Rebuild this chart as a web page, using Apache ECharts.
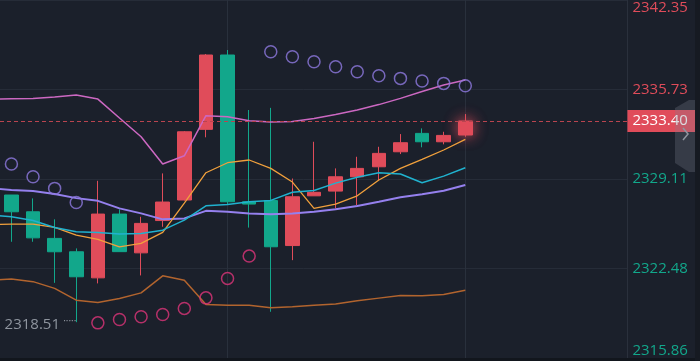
<!DOCTYPE html>
<html><head><meta charset="utf-8">
<script src="https://cdn.jsdelivr.net/npm/echarts@6/dist/echarts.min.js"></script>
<style>html,body{margin:0;padding:0;background:#1b202b;overflow:hidden}#c{width:721px;height:361px;margin-left:-21px}</style>
</head><body><div id="c"></div>
<script>
// ---- data ----
// first category (T00) is the bar just off the left edge; only the indicator lines show from it
const categories = ['T00','T01','T02','T03','T04','T05','T06','T07','T08','T09','T10','T11','T12','T13','T14','T15','T16','T17','T18','T19','T20','T21','T22','T23','T24','T25','T26','T27','T28','T29'];
const opens  = [2327.92,2326.68,2324.71,2323.72,2321.79,2326.51,2323.64,2326.03,2327.55,2332.78,2338.28,2327.42,2327.51,2324.18,2327.86,2328.21,2329.27,2330.01,2331.12,2332.48,2331.86,2332.36];
const closes = [2326.68,2324.75,2323.72,2321.87,2326.51,2323.73,2325.82,2327.40,2332.60,2338.28,2327.42,2327.25,2324.09,2327.79,2328.12,2329.27,2329.89,2331.00,2331.79,2331.86,2332.33,2333.40];
const lows   = [2324.46,2324.46,2321.42,2318.51,2321.38,2323.73,2321.97,2325.57,2327.51,2332.19,2327.25,2325.51,2319.28,2323.10,2327.86,2326.93,2327.17,2329.03,2330.95,2331.45,2331.67,2332.23];
const highs  = [2327.92,2327.67,2326.12,2323.97,2328.97,2326.86,2326.31,2329.52,2332.65,2338.35,2338.65,2334.21,2334.37,2329.14,2331.86,2329.89,2330.75,2331.49,2332.43,2332.85,2332.60,2333.91];
// indicator lines: first value belongs to T00
const upperBand = [2335.00,2335.04,2335.07,2335.17,2335.32,2335.02,2333.62,2332.23,2330.21,2330.82,2333.79,2333.71,2333.42,2333.32,2333.36,2333.59,2333.87,2334.21,2334.61,2335.07,2335.58,2336.06,2336.43];
const midBand   = [2328.43,2328.29,2328.21,2327.99,2327.69,2327.49,2326.93,2326.56,2326.12,2326.19,2326.75,2326.68,2326.56,2326.49,2326.56,2326.68,2326.86,2327.10,2327.42,2327.75,2327.97,2328.23,2328.66];
const lowerBand = [2321.62,2321.70,2321.51,2321.01,2320.14,2319.97,2320.27,2320.68,2321.94,2321.62,2319.82,2319.77,2319.77,2319.57,2319.65,2319.77,2319.85,2320.09,2320.29,2320.49,2320.46,2320.56,2320.88];
const maOrange  = [2325.73,2325.77,2325.77,2325.52,2324.95,2324.64,2324.09,2324.34,2325.15,2327.32,2329.57,2330.31,2330.51,2329.89,2328.88,2326.93,2327.25,2327.86,2329.03,2329.89,2330.56,2331.25,2332.04];
const maCyan    = [2326.45,2326.31,2326.03,2325.52,2325.20,2325.15,2325.03,2325.08,2325.32,2326.06,2327.12,2327.21,2327.42,2327.52,2328.12,2328.25,2328.80,2329.23,2329.57,2329.47,2328.83,2329.32,2329.94];
const sar       = [2330.21,2329.27,2328.41,2327.37,2318.46,2318.71,2318.91,2319.08,2319.53,2320.31,2321.75,2323.40,2338.52,2338.15,2337.78,2337.41,2337.04,2336.75,2336.55,2336.35,2336.18,2336.01];
const yTicks = [2315.86, 2322.48, 2329.11, 2335.73, 2342.35];
const lastPrice = 2333.40;
const gridMarkIdx = [11, 22];

// ---- styles ----
const RED = '#e04c5a', GREEN = '#12a78b';
const FONT = 'Open Sans';
const OX = 21; // chart canvas is shifted 21px left of the page

const candleData = ['-'].concat(opens.map((o, i) => {
  const d = { value: [o, closes[i], lows[i], highs[i]] };
  if (i === opens.length - 1) d.itemStyle = { shadowBlur: 14, shadowColor: 'rgba(240,80,95,0.9)' };
  return d;
}));
const sarAbove = ['-'].concat(sar.map((v, i) => v > highs[i] ? v : '-'));
const sarBelow = ['-'].concat(sar.map((v, i) => v < lows[i] ? v : '-'));

function lineSeries(data, color, width) {
  return { type: 'line', data: data, symbol: 'none', silent: true, z: 3,
    lineStyle: { color: color, width: width } };
}
function sarSeries(data, color) {
  return { type: 'scatter', data: data, symbol: 'circle', symbolSize: 12, silent: true, z: 4,
    itemStyle: { color: 'rgba(0,0,0,0)', borderColor: color, borderWidth: 1.5 } };
}

const chart = echarts.init(document.getElementById('c'), null, { renderer: 'canvas' });
chart.setOption({
  animation: false,
  backgroundColor: '#1b202b',
  textStyle: { fontFamily: FONT },
  grid: { left: 0, right: 72.6, top: 0, bottom: 3, containLabel: false },
  xAxis: { type: 'category', data: categories, boundaryGap: true, show: true,
    axisLine: { show: false }, axisTick: { show: false }, axisLabel: { show: false }, splitLine: { show: false } },
  yAxis: {
    type: 'value', position: 'right', min: yTicks[0], max: yTicks[yTicks.length - 1], scale: true,
    axisLine: { show: true, lineStyle: { color: '#2a303c' } },
    axisTick: { show: false, customValues: yTicks },
    splitLine: { show: true, lineStyle: { color: '#262c38', width: 1 } },
    axisLabel: {
      customValues: yTicks, margin: 5, fontSize: 15, fontFamily: FONT,
      verticalAlignMinLabel: 'bottom', verticalAlignMaxLabel: 'top',
      formatter: v => v.toFixed(2),
      color: v => (v > lastPrice ? RED : GREEN)
    }
  },
  series: [
    { type: 'line', data: [], silent: true, z: 1,
      markLine: { silent: true, symbol: ['none', 'none'], z: 1, animation: false,
        label: { show: false },
        lineStyle: { color: '#29303c', type: 'solid', width: 1 },
        data: gridMarkIdx.map(i => ({ xAxis: i })) } },
    { type: 'candlestick', data: candleData, barWidth: 14, z: 2,
      itemStyle: { color: RED, color0: GREEN, borderColor: RED, borderColor0: GREEN, borderWidth: 1 },
      markPoint: {
        symbol: 'circle', symbolSize: 0, silent: true,
        data: [{ type: 'min', valueDim: 'lowest' }],
        label: { show: true, position: 'left', distance: 0, offset: [0, 3],
          formatter: p => '{v|' + p.value.toFixed(2) + '} {d|·····}',
          rich: { v: { fontSize: 15, color: '#8e949e', fontFamily: FONT },
                  d: { fontSize: 10, color: '#8e949e', verticalAlign: 'top', padding: [0, 0, 8, 0] } } }
      },
      markLine: { silent: true, symbol: ['none', 'none'], animation: false,
        lineStyle: { color: '#b9444f', type: [4, 3], width: 1, opacity: 1 },
        data: [{ yAxis: lastPrice,
          lineStyle: { color: '#b9444f', type: [4, 3], width: 1, opacity: 1 },
          label: { show: true, position: 'end', distance: 0, formatter: lastPrice.toFixed(2),
            backgroundColor: RED, color: '#ffffff', fontSize: 15, fontFamily: FONT,
            lineHeight: 18, padding: [2, 10, 2, 5] } }] } },
    lineSeries(upperBand, '#cc68c2', 1.5),
    lineSeries(midBand, '#9580ee', 2),
    lineSeries(lowerBand, '#b2642e', 1.5),
    lineSeries(maOrange, '#f1a03c', 1.3),
    lineSeries(maCyan, '#20b2cf', 1.5),
    sarSeries(sarAbove, '#8f79e0'),
    sarSeries(sarBelow, '#dd3479')
  ],
  graphic: [
    { type: 'rect', z: 100, silent: true, shape: { x: 0, y: 358, width: 721, height: 3 }, style: { fill: '#12161d' } },
    { type: 'rect', z: 100, silent: true, shape: { x: 695 + OX, y: 0, width: 5, height: 361 }, style: { fill: '#161a22' } },
    { type: 'polygon', z: 101, silent: true,
      shape: { points: [[675 + OX, 108], [689 + OX, 100], [695 + OX, 100], [695 + OX, 172], [689 + OX, 172], [675 + OX, 163]] },
      style: { fill: 'rgba(125,130,145,0.28)' } },
    { type: 'polyline', z: 102, silent: true,
      shape: { points: [[683 + OX, 128], [688 + OX, 134], [683 + OX, 140]] },
      style: { stroke: '#9096a0', lineWidth: 1.5, fill: null } }
  ]
});
</script></body></html>
